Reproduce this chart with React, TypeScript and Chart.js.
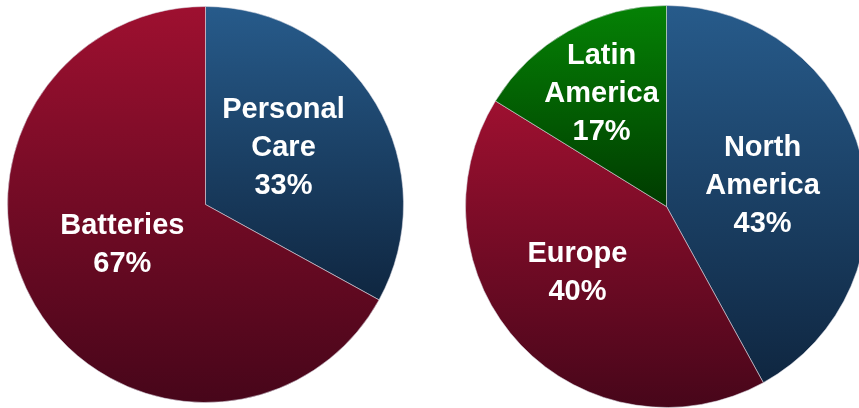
import React, { useEffect, useRef } from "react";
import { Chart, registerables } from "chart.js";
Chart.register(...registerables);

// ---- Data ----
const businessCategories = ["Personal Care", "Batteries"];
const businessValues = [33, 67];
const businessLabelLines = [["Personal", "Care", "33%"], ["Batteries", "67%"]];

const regionCategories = ["North America", "Europe", "Latin America"];
const regionValues = [42, 41.8, 16.2];
const regionLabelLines = [["North", "America", "43%"], ["Europe", "40%"], ["Latin", "America", "17%"]];

// ---- Styles ----
const BLUE: [string, string] = ["#275b8b", "#0f2640"];
const RED: [string, string] = ["#9e1030", "#47061a"];
const GREEN: [string, string] = ["#058205", "#003b00"];

const businessColors = [BLUE, RED];
const regionColors = [BLUE, RED, GREEN];

// label offsets as fraction of radius (dx, dy) from center
const businessLabelPos: [number, number][] = [[0.394, -0.288], [-0.42, 0.202]];
const regionLabelPos: [number, number][] = [[0.478, -0.109], [-0.443, 0.326], [-0.323, -0.567]];

function sliceGradient(ctx: any, colors: [string, string][]) {
  const chart = ctx.chart;
  const area = chart.chartArea;
  const pair = colors[ctx.dataIndex % colors.length];
  if (!area) return pair[0];
  const data = ctx.dataset.data as number[];
  const total = data.reduce((a, b) => a + b, 0);
  let before = 0;
  for (let i = 0; i < ctx.dataIndex; i++) before += data[i];
  const a0 = (before / total) * Math.PI * 2;
  const a1 = ((before + data[ctx.dataIndex]) / total) * Math.PI * 2;
  const cx = (area.left + area.right) / 2;
  const cy = (area.top + area.bottom) / 2;
  const r = Math.min(area.right - area.left, area.bottom - area.top) / 2;
  const ys = [cy, cy - r * Math.cos(a0), cy - r * Math.cos(a1)];
  let ymin = Math.min(...ys);
  let ymax = Math.max(...ys);
  if (a0 <= 1e-6) ymin = cy - r;
  if (a0 < Math.PI && a1 > Math.PI) ymax = cy + r;
  const g = chart.ctx.createLinearGradient(0, ymin, 0, ymax);
  g.addColorStop(0, pair[0]);
  g.addColorStop(1, pair[1]);
  return g;
}

function makeLabelPlugin(lines: string[][], pos: [number, number][]) {
  return {
    id: "sliceLabels",
    afterDatasetsDraw(chart: any) {
      const meta = chart.getDatasetMeta(0);
      const c = chart.ctx;
      c.save();
      c.fillStyle = "#ffffff";
      c.font = "bold 29px 'Liberation Sans', Arial, sans-serif";
      c.textAlign = "center";
      c.textBaseline = "middle";
      const lh = 38;
      meta.data.forEach((arc: any, i: number) => {
        const p = arc.getProps(["x", "y", "outerRadius"], true);
        const bx = p.x + pos[i][0] * p.outerRadius;
        const by = p.y + pos[i][1] * p.outerRadius;
        const ls = lines[i];
        ls.forEach((t, k) => {
          c.fillText(t, bx, by + (k - (ls.length - 1) / 2) * lh + 1);
        });
      });
      c.restore();
    },
  };
}

function PieChart(props: {
  labels: string[];
  values: number[];
  colors: [string, string][];
  lines: string[][];
  pos: [number, number][];
  size: number;
  style: React.CSSProperties;
}) {
  const ref = useRef<HTMLCanvasElement | null>(null);
  useEffect(() => {
    if (!ref.current) return;
    const chart = new Chart(ref.current, {
      type: "pie",
      data: {
        labels: props.labels,
        datasets: [
          {
            data: props.values,
            backgroundColor: (ctx: any) => sliceGradient(ctx, props.colors),
            borderColor: "rgba(220,220,230,0.55)",
            borderWidth: 1,
          },
        ],
      },
      options: {
        responsive: false,
        animation: false,
        layout: { padding: 0 },
        plugins: { legend: { display: false }, tooltip: { enabled: false } },
      },
      plugins: [makeLabelPlugin(props.lines, props.pos)],
    } as any);
    return () => chart.destroy();
  }, []);
  return (
    <div style={{ position: "absolute", width: props.size, height: props.size, ...props.style }}>
      <canvas ref={ref} width={props.size} height={props.size} style={{ width: props.size, height: props.size }} />
    </div>
  );
}

export default function App() {
  return (
    <div
      style={{
        position: "fixed",
        left: 0,
        top: 0,
        width: 859,
        height: 408,
        overflow: "hidden",
        background: "#ffffff",
      }}
    >
      <PieChart
        labels={businessCategories}
        values={businessValues}
        colors={businessColors}
        lines={businessLabelLines}
        pos={businessLabelPos}
        size={397}
        style={{ left: 7, top: 6 }}
      />
      <PieChart
        labels={regionCategories}
        values={regionValues}
        colors={regionColors}
        lines={regionLabelLines}
        pos={regionLabelPos}
        size={403}
        style={{ left: 465, top: 5 }}
      />
    </div>
  );
}
